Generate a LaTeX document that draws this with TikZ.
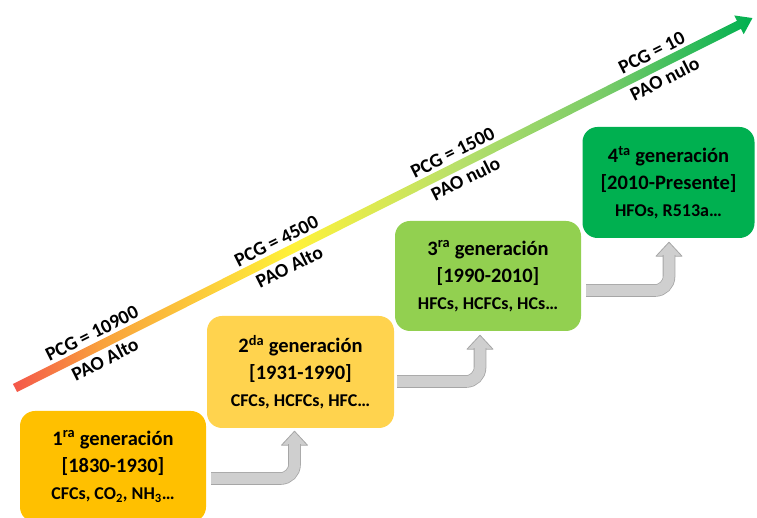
\documentclass[tikz,border=0pt]{standalone}
\usepackage{fontspec}
\setmainfont{Carlito}
\usetikzlibrary{calc}

\definecolor{pcgred}{HTML}{F4574A}
\definecolor{pcgorange}{HTML}{F9A23C}
\definecolor{pcgyellow}{HTML}{FFF23A}
\definecolor{pcglime}{HTML}{B8E06A}
\definecolor{pcgmint}{HTML}{78CB68}
\definecolor{pcggreen}{HTML}{00B050}
\definecolor{gen1}{HTML}{FFC000}
\definecolor{gen2}{HTML}{FFD34E}
\definecolor{gen3}{HTML}{92D050}
\definecolor{gen4}{HTML}{00B050}

\pgfdeclarehorizontalshading{pcgshade}{100bp}{color(0bp)=(pcgred); color(25bp)=(pcgred); color(31bp)=(pcgorange); color(44bp)=(pcgyellow); color(55bp)=(pcglime); color(65bp)=(pcgmint); color(75bp)=(pcggreen); color(100bp)=(pcggreen)}

\newcommand{\genlist}{\fontsize{18}{27}\selectfont}

\begin{document}
\begin{tikzpicture}[
  x=1pt,y=1pt,
  every node/.style={font=\bfseries\fontsize{19.5}{27}\selectfont,text=black},
  gen/.style={rounded corners=15pt,minimum width=186pt,minimum height=111pt,inner sep=0pt,align=center,
    font=\bfseries\fontsize{20.5}{27}\selectfont},
  lbl/.style={sloped,inner sep=7.5pt},
  shaft/.style={draw=gray!70,line width=0.8pt,double=gray!38,double distance=11pt,rounded corners=14pt},
  head/.style={fill=gray!38,draw=gray!70,line width=0.8pt,line join=round}
]
\useasboundingbox (0,0) rectangle (757,518);

% rising PCG arrow
\coordinate (pcgA) at (15,130);
\coordinate (pcgB) at (752.5,500);
\begin{scope}[shift={(pcgA)},rotate=26.64]
\shade[shading=pcgshade] (0,-4.5) -- (810,-4.5) -- (810,-10.5) -- (825.1,0)
  -- (810,10.5) -- (810,4.5) -- (0,4.5) -- cycle;
\end{scope}
\path (pcgA) -- (pcgB)
  node[lbl,pos=.113,above] {PCG = 10900} node[lbl,pos=.113,below] {PAO Alto}
  node[lbl,pos=.363,above] {PCG = 4500}  node[lbl,pos=.363,below] {PAO Alto}
  node[lbl,pos=.602,above] {PCG = 1500}  node[lbl,pos=.602,below] {PAO nulo}
  node[lbl,pos=.872,above] {PCG = 10}    node[lbl,pos=.872,below] {PAO nulo};

% generations
\node[gen,fill=gen1] (b1) at (113,51.5) {1\textsuperscript{ra} generación\\{[}1830-1930{]}\\{\genlist CFCs, CO\textsubscript{2}, NH\textsubscript{3}…}};
\node[gen,fill=gen2,minimum width=187pt,minimum height=112pt] (b2) at (300.5,146) {2\textsuperscript{da} generación\\{[}1931-1990{]}\\{\genlist CFCs, HCFCs, HFC…}};
\node[gen,fill=gen3,minimum height=110pt] (b3) at (488,242) {3\textsuperscript{ra} generación\\{[}1990-2010{]}\\{\genlist HFCs, HCFCs, HCs…}};
\node[gen,fill=gen4,minimum width=172pt] (b4) at (668.5,335.5) {4\textsuperscript{ta} generación\\{[}2010-Presente{]}\\{\genlist HFOs, R513a…}};

% bent arrows
\filldraw[head] ($(b2.south)+(-6,-3)$) -- ++(-13,-14) -- ++(26,0) -- cycle;
\draw[shaft] ($(b1.east)+(5,-12)$) -| ($(b2.south)+(-6,-16)$);
\filldraw[head] ($(b3.south)+(-8,-4)$) -- ++(-13,-14) -- ++(26,0) -- cycle;
\draw[shaft] ($(b2.east)+(3,-9.5)$) -| ($(b3.south)+(-8,-17)$);
\filldraw[head] ($(b4.south)+(0.5,-4)$) -- ++(-13,-14) -- ++(26,0) -- cycle;
\draw[shaft] ($(b3.east)+(5,-14.5)$) -| ($(b4.south)+(0.5,-17)$);
\end{tikzpicture}
\end{document}
